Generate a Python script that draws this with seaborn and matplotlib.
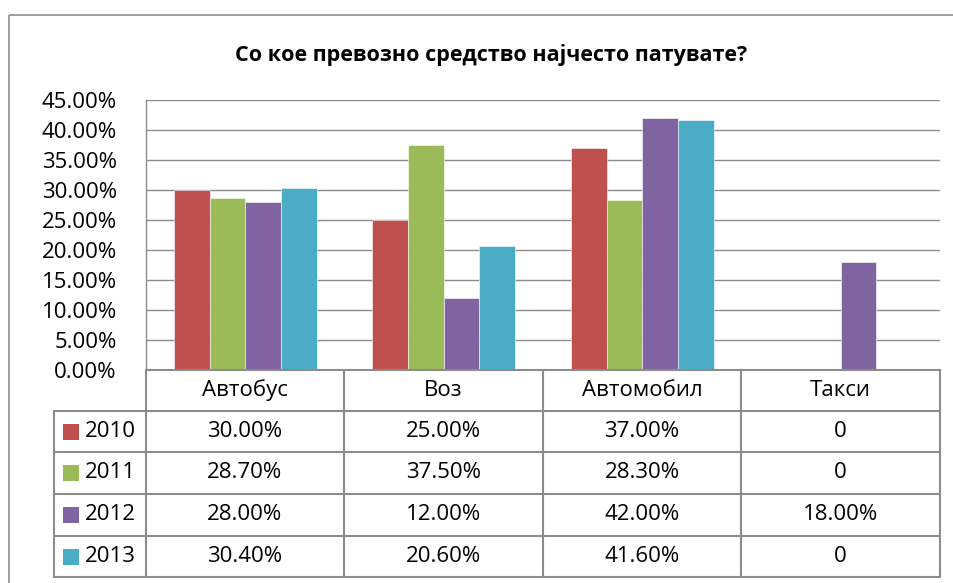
import matplotlib
matplotlib.use("Agg")
import matplotlib.pyplot as plt
import seaborn as sns
import pandas as pd
from matplotlib.patches import Rectangle
from matplotlib.ticker import FuncFormatter, MultipleLocator

title = "Со кое превозно средство најчесто патувате?"
categories = ["Автобус", "Воз", "Автомобил", "Такси"]
years = ["2010", "2011", "2012", "2013"]
v2010 = [0.300, 0.250, 0.370, 0.0]
v2011 = [0.287, 0.375, 0.283, 0.0]
v2012 = [0.280, 0.120, 0.420, 0.180]
v2013 = [0.304, 0.206, 0.416, 0.0]
colors = ["#C0504D", "#9BBB59", "#8064A2", "#4BACC6"]

series = [v2010, v2011, v2012, v2013]
rows = []
for yr, vals in zip(years, series):
    for c, v in zip(categories, vals):
        rows.append({"cat": c, "year": yr, "val": v})
df = pd.DataFrame(rows)

sns.set_theme(style="white")
plt.rcParams["font.family"] = ["Open Sans", "DejaVu Sans"]

W, H = 954, 583
fig = plt.figure(figsize=(W / 100, H / 100), dpi=100)

# pixel layout
pl, pr, pt, pb = 146, 940, 100, 370
ax = fig.add_axes([pl / W, 1 - pb / H, (pr - pl) / W, (pb - pt) / H])
sns.barplot(data=df, x="cat", y="val", hue="year", order=categories,
            hue_order=years, palette=colors, width=0.72, gap=0,
            edgecolor="white", linewidth=0.4, legend=False, ax=ax,
            errorbar=None, saturation=1)
ax.set_xlim(-0.5, 3.5)
ax.set_ylim(0, 0.45)
ax.yaxis.set_major_locator(MultipleLocator(0.05))
ax.yaxis.set_major_formatter(FuncFormatter(lambda v, p: f"{v*100:.2f}%"))
ax.grid(axis="y", color="#8C8C8C", linewidth=1.0)
ax.set_axisbelow(True)
ax.set_xticks([])
ax.set_xlabel("")
ax.set_ylabel("")
for s in ["top", "right", "bottom"]:
    ax.spines[s].set_visible(False)
ax.spines["left"].set_color("#8C8C8C")
ax.spines["left"].set_linewidth(1.0)
ax.tick_params(axis="y", length=0, pad=21, labelsize=16, labelcolor="black")
ax.set_facecolor("none")

# overlay in pixel coordinates
ov = fig.add_axes([0, 0, 1, 1])
ov.set_xlim(0, W)
ov.set_ylim(H, 0)
ov.axis("off")
ov.set_zorder(-1)
ov.patch.set_visible(False)

# outer chart border
ov.add_patch(Rectangle((9, 15), 1000, 700, fill=False, edgecolor="#8C8C8C", linewidth=1.2))
ov.text(491, 55, title, ha="center", va="center", fontsize=15.5, fontweight="bold", color="black")

# data table
lc = "#8C8C8C"
cols = [146, 344, 543, 741, 940]
rys = [370, 411, 452, 494, 536, 577]
tab = fig.add_axes([0, 0, 1, 1])
tab.set_xlim(0, W)
tab.set_ylim(H, 0)
tab.axis("off")
tab.patch.set_visible(False)
# horizontal lines
tab.plot([146, 940], [370, 370], color=lc, lw=1.5)
for y in rys[1:]:
    tab.plot([54, 940], [y, y], color=lc, lw=1.5)
for x in cols:
    tab.plot([x, x], [370, 577], color=lc, lw=1.5)
tab.plot([54, 54], [411, 577], color=lc, lw=1.5)

fs = 16
for i, c in enumerate(categories):
    tab.text((cols[i] + cols[i + 1]) / 2, (rys[0] + rys[1]) / 2, c,
             ha="center", va="center", fontsize=fs, color="black")
for r, (yr, vals, col) in enumerate(zip(years, series, colors)):
    yc = (rys[r + 1] + rys[r + 2]) / 2
    tab.add_patch(Rectangle((63, yc - 8), 16, 16, facecolor=col, edgecolor="none"))
    tab.text(85, yc, yr, ha="left", va="center", fontsize=fs, color="black")
    for i, v in enumerate(vals):
        s = "0" if v == 0 else f"{v*100:.2f}%"
        tab.text((cols[i] + cols[i + 1]) / 2, yc, s, ha="center", va="center",
                 fontsize=fs, color="black")

fig.savefig("out.png", dpi=100, facecolor="white")
